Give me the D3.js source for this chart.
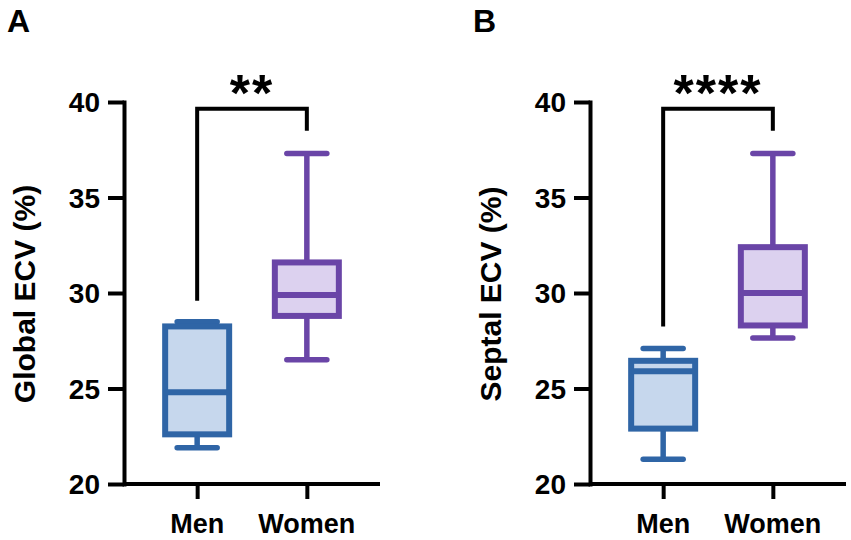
<!DOCTYPE html>
<html><head><meta charset="utf-8">
<script src="https://cdn.jsdelivr.net/npm/d3@7"></script>
<style>body{margin:0;background:#fff}svg{display:block}text{font-family:"Liberation Sans",Arial,sans-serif;font-weight:bold;fill:#000}</style>
</head><body>
<svg id="c" width="851" height="540"></svg>
<script>
const categories = ["Men", "Women"];
const yTicks = [20, 25, 30, 35, 40];
// box stats: [whiskerLow, Q1, median, Q3, whiskerHigh]
const globalMen   = [21.9, 22.6, 24.8, 28.25, 28.5];
const globalWomen = [26.5, 28.8, 29.9, 31.6, 37.3];
const septalMen   = [21.3, 22.9, 25.9, 26.45, 27.1];
const septalWomen = [27.65, 28.3, 30.0, 32.4, 37.3];
// significance brackets: [left bottom, top, right bottom]
const globalBracket = [29.6, 39.65, 38.5];
const septalBracket = [28.25, 39.65, 38.5];
const globalStars = "**";
const septalStars = "****";

const strokeCol = ["#2f65a6", "#6a45a7"];
const fillCol = ["#c6d7ed", "#dcd1ef"];

const svg = d3.select("#c");

function panel(ox, letter, title, data, bracket, stars) {
  const g = svg.append("g");
  const y = d3.scaleLinear().domain([20, 40]).range([484, 102]);
  const x = d3.scalePoint().domain(categories).range([ox, ox + 256]).padding(0.667);

  // panel letter
  g.append("text").attr("x", ox - 117).attr("y", 32).attr("font-size", 32).text(letter);

  // y axis
  const ya = g.append("g").attr("transform", `translate(${ox},0)`)
    .call(d3.axisLeft(y).tickValues(yTicks).tickSize(16).tickPadding(8).tickSizeOuter(0));
  ya.select(".domain").attr("stroke", "#000").attr("stroke-width", 4).attr("stroke-linecap", "square");
  ya.selectAll(".tick line").attr("stroke", "#000").attr("stroke-width", 4);
  ya.selectAll(".tick text").attr("font-size", 28).attr("font-family", '"Liberation Sans",Arial,sans-serif').attr("font-weight", "bold").attr("dy", "0.35em");

  // x axis
  const xa = g.append("g").attr("transform", `translate(0,${y(20)})`)
    .call(d3.axisBottom(x).tickSize(15).tickSizeOuter(0).tickFormat(""));
  xa.select(".domain").attr("stroke", "#000").attr("stroke-width", 4).attr("d", `M${ox},0H${ox + 256}`);
  xa.selectAll(".tick line").attr("stroke", "#000").attr("stroke-width", 4);
  g.selectAll(".catlab").data(categories).enter().append("text")
    .attr("x", d => x(d)).attr("y", 533).attr("text-anchor", "middle").attr("font-size", 27).text(d => d);

  // y title
  g.append("text").attr("transform", `translate(${ox - 89},294) rotate(-90)`)
    .attr("text-anchor", "middle").attr("font-size", 30).text(title);

  // boxes
  const bw = 64, cw = 40;
  data.forEach((s, i) => {
    const cx = x(categories[i]);
    const bg = g.append("g").attr("stroke", strokeCol[i]).attr("stroke-width", 5.5);
    bg.append("line").attr("x1", cx).attr("x2", cx).attr("y1", y(s[0])).attr("y2", y(s[1]));
    bg.append("line").attr("x1", cx).attr("x2", cx).attr("y1", y(s[3])).attr("y2", y(s[4]));
    bg.append("line").attr("x1", cx - cw / 2).attr("x2", cx + cw / 2).attr("y1", y(s[0])).attr("y2", y(s[0])).attr("stroke-linecap", "round");
    bg.append("line").attr("x1", cx - cw / 2).attr("x2", cx + cw / 2).attr("y1", y(s[4])).attr("y2", y(s[4])).attr("stroke-linecap", "round");
    bg.append("rect").attr("x", cx - bw / 2).attr("width", bw).attr("y", y(s[3])).attr("height", y(s[1]) - y(s[3]))
      .attr("fill", fillCol[i]).attr("stroke-width", 6);
    bg.append("line").attr("x1", cx - bw / 2).attr("x2", cx + bw / 2).attr("y1", y(s[2])).attr("y2", y(s[2])).attr("stroke-width", 6);
  });

  // bracket
  const x1 = x(categories[0]), x2 = x(categories[1]);
  g.append("path").attr("fill", "none").attr("stroke", "#000").attr("stroke-width", 4)
    .attr("d", `M${x1},${y(bracket[0])}V${y(bracket[1])}H${x2}V${y(bracket[2])}`);
  g.append("text").attr("x", (x1 + x2) / 2).attr("y", 111).attr("text-anchor", "middle")
    .attr("font-size", 52).attr("letter-spacing", 2).text(stars);
}

panel(124, "A", "Global ECV (%)", [globalMen, globalWomen], globalBracket, globalStars);
panel(590, "B", "Septal ECV (%)", [septalMen, septalWomen], septalBracket, septalStars);
</script>
</body></html>
